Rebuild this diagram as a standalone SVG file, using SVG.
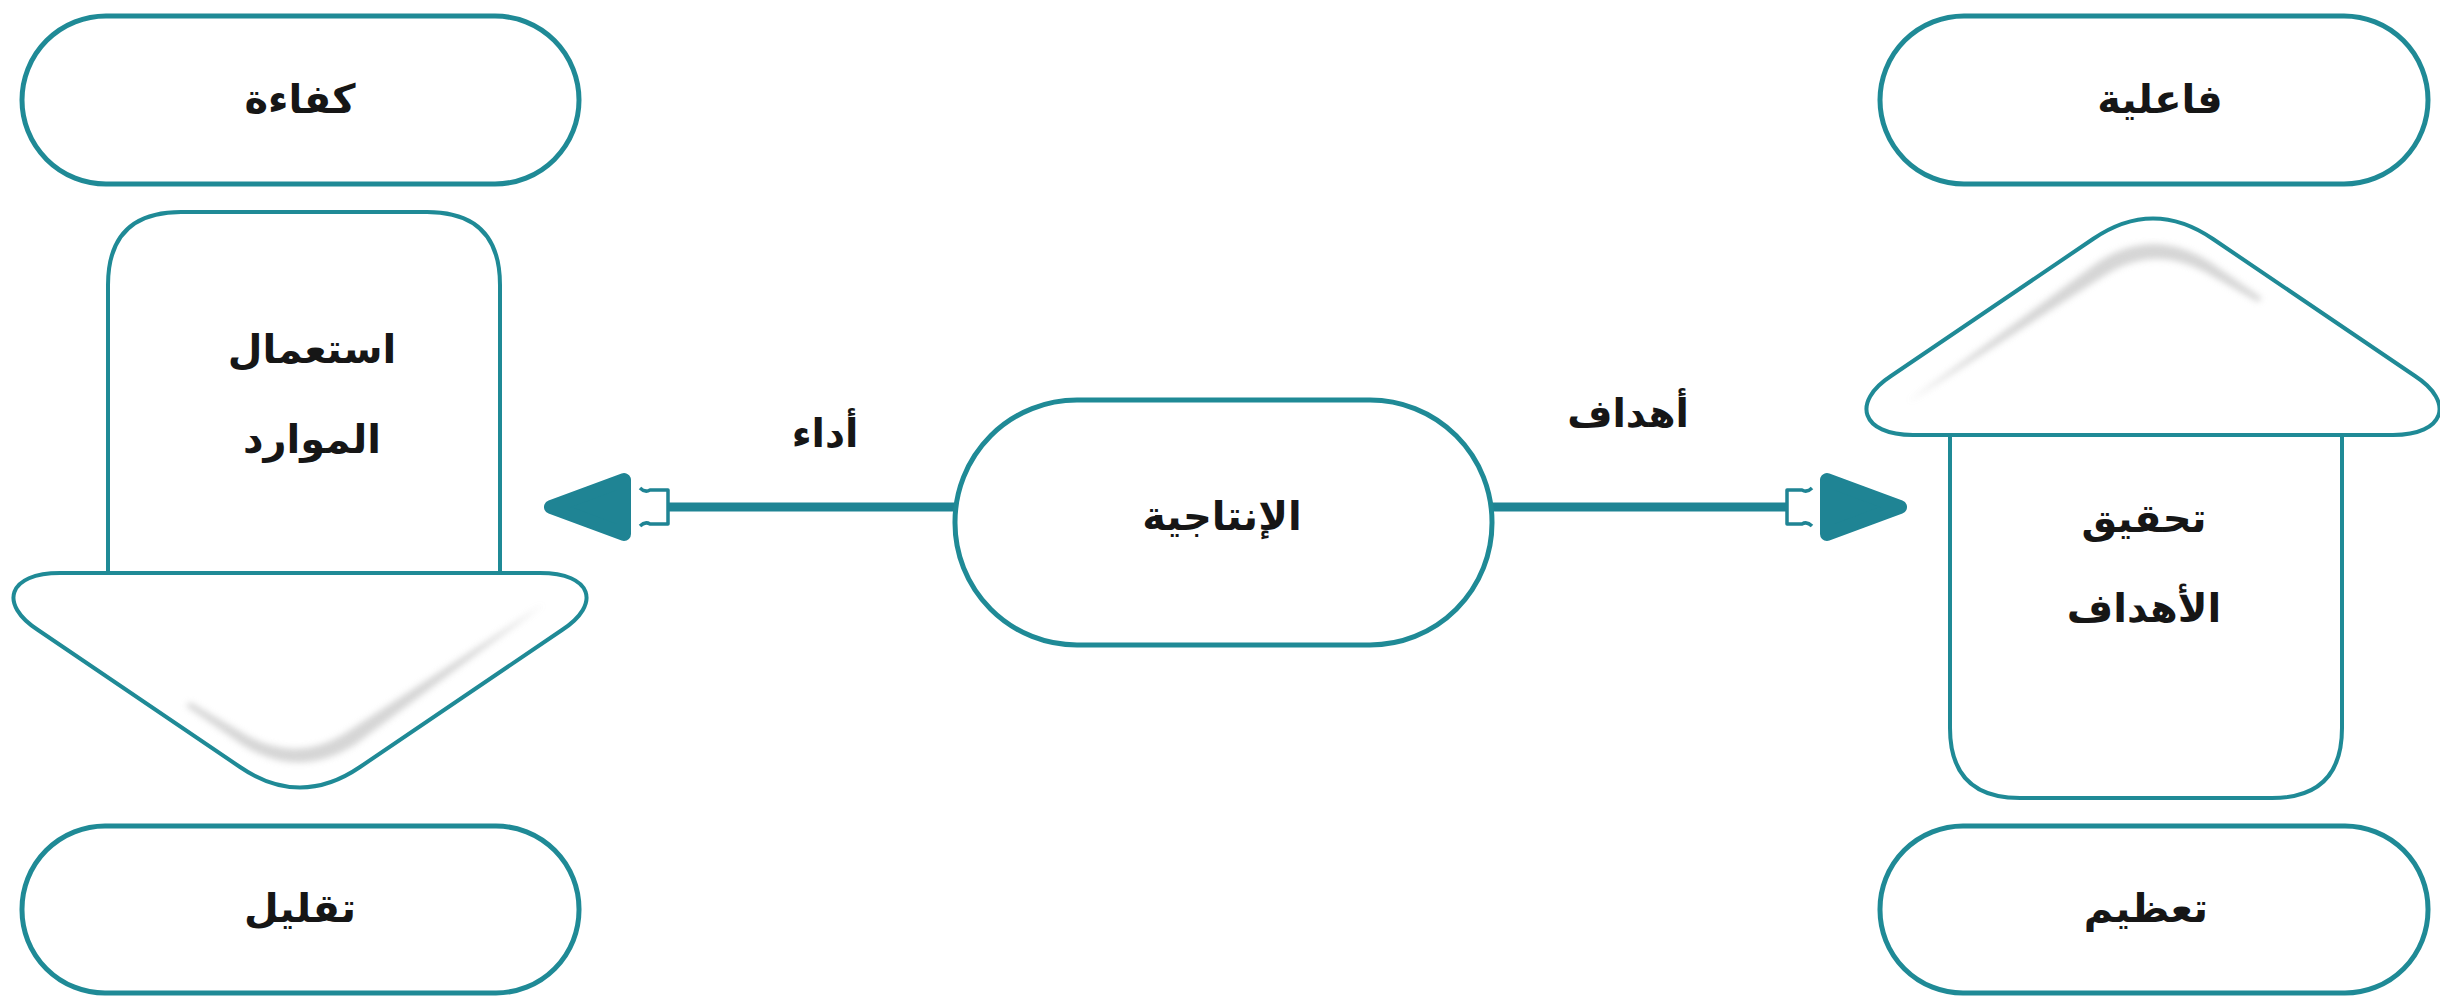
<svg xmlns="http://www.w3.org/2000/svg" width="2440" height="1003" viewBox="0 0 2440 1003">
<defs>
<style>
.pill{fill:#fff;stroke:#1f8a96;stroke-width:5}
.shape{fill:#fff;stroke:#1f8a96;stroke-width:4}
.t{font-family:"DejaVu Sans","Noto Sans",sans-serif;font-weight:bold;font-size:40px;fill:#161616;text-anchor:middle}
.lbl{font-family:"DejaVu Sans","Noto Sans",sans-serif;font-weight:bold;font-size:39px;fill:#161616;text-anchor:middle}
.conn{stroke:#1f8494;stroke-width:9;fill:none}
.plug{stroke:#1f8494;stroke-width:3.5;fill:none;stroke-linejoin:round}
.head{fill:#1f8494;stroke:#1f8494;stroke-width:14;stroke-linejoin:round}
.shade{fill:#c4c4c4;opacity:0.7;filter:url(#blur)}
</style>
<filter id="blur" x="-20%" y="-20%" width="140%" height="140%"><feGaussianBlur stdDeviation="3"/></filter>
</defs>
<rect width="2440" height="1003" fill="#fff"/>

<g id="connectors">
<line class="conn" x1="668" y1="507" x2="956" y2="507"/>
<path class="plug" d="M640,488 Q645,493 650,490 L668,490 L668,524 L650,524 Q645,521 640,526"/>
<polygon class="head" points="551,507 624,480 624,534"/>
<line class="conn" x1="1491" y1="507" x2="1787" y2="507"/>
<path class="plug" d="M1812,488 Q1807,493 1802,490 L1787,490 L1787,524 L1802,524 Q1807,521 1812,526"/>
<polygon class="head" points="1900,507 1827,480 1827,534"/>
<text class="lbl" x="825" y="447">أداء</text>
<text class="lbl" x="1628" y="427">أهداف</text>
</g>

<g id="node-kafaa">
<rect class="pill" x="22" y="16" width="557" height="168" rx="84"/>
<text class="t" x="300" y="113">كفاءة</text>
</g>

<g id="node-istimal">
<path class="shape" d="M108,580 L108,285 Q108,212 181,212 L427,212 Q500,212 500,285 L500,580"/>
<path class="shape" d="M60,573 C8,573 -2,604 38,630 L240,767 Q300,808 360,767 L562,630 C602,604 592,573 540,573 Z"/>
<path class="shade" d="M544,604 L356,744 Q300,780 244,746 L186,706 L190,702 L248,736 Q300,764 350,730 Z"/>
<text class="t" x="312" y="363">استعمال</text>
<text class="t" x="312" y="453">الموارد</text>
</g>

<g id="node-taqlil">
<rect class="pill" x="22" y="826" width="557" height="167" rx="83"/>
<text class="t" x="300" y="922">تقليل</text>
</g>

<g id="node-intajiya">
<rect class="pill" x="955" y="400" width="537" height="245" rx="122"/>
<text class="t" x="1222" y="530">الإنتاجية</text>
</g>

<g id="node-failiya">
<rect class="pill" x="1880" y="16" width="548" height="168" rx="84"/>
<text class="t" x="2160" y="113">فاعلية</text>
</g>

<g id="node-tahqiq">
<path class="shape" d="M1950,430 L1950,728 Q1950,798 2020,798 L2272,798 Q2342,798 2342,728 L2342,430"/>
<path class="shape" d="M1913,435 C1861,435 1851,402 1891,376 L2093,239 Q2153,198 2213,239 L2415,376 C2455,402 2445,435 2393,435 Z"/>
<path class="shade" d="M1908,402 L2098,262 Q2153,226 2210,262 L2262,298 L2258,302 L2205,272 Q2153,244 2104,276 Z"/>
<text class="t" x="2144" y="532">تحقيق</text>
<text class="t" x="2144" y="622">الأهداف</text>
</g>

<g id="node-tazim">
<rect class="pill" x="1880" y="826" width="548" height="167" rx="83"/>
<text class="t" x="2146" y="922">تعظيم</text>
</g>
</svg>
